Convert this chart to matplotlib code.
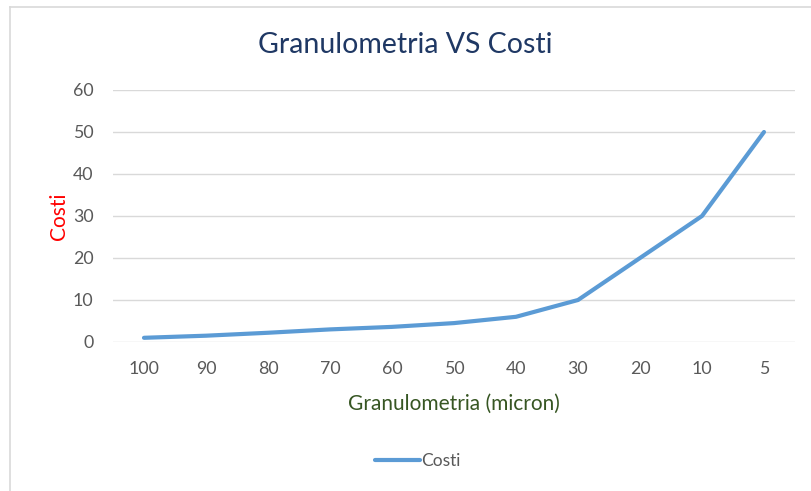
import matplotlib
matplotlib.use("Agg")
import matplotlib.pyplot as plt
from matplotlib.lines import Line2D

# data
granulometria = ["100", "90", "80", "70", "60", "50", "40", "30", "20", "10", "5"]
costi = [1, 1.5, 2.2, 3, 3.6, 4.5, 6, 10, 20, 30, 50]
y_ticks = [0, 10, 20, 30, 40, 50, 60]

_FONT = ["Lato", "DejaVu Sans"]
_BLUE = "#5B9BD5"
_GREY = "#595959"
_GRID = "#D9D9D9"

W, H = 811, 491
plt.rcParams["font.family"] = _FONT

fig = plt.figure(figsize=(W / 100, H / 100), dpi=100)
fig.patch.set_facecolor("white")

# plot area in pixels: x 113..795, y 90..342
ax = fig.add_axes([113 / W, 1 - 342 / H, (795 - 113) / W, (342 - 90) / H])
x = range(len(granulometria))
ax.plot(x, costi, color=_BLUE, linewidth=3, solid_capstyle="round", zorder=3)

ax.set_xlim(-0.5, len(granulometria) - 0.5)
ax.set_ylim(0, 60)
ax.set_yticks(y_ticks)
ax.set_xticks(list(x))
ax.set_xticklabels(granulometria)
ax.grid(axis="y", color=_GRID, linewidth=1)
ax.set_axisbelow(True)
for s in ax.spines.values():
    s.set_visible(False)
ax.tick_params(axis="both", length=0, colors=_GREY, labelsize=12.8)
ax.tick_params(axis="x", pad=14)
ax.tick_params(axis="y", pad=14)

ax.set_xlabel("Granulometria (micron)", color="#375623", fontsize=15, labelpad=12)
ax.set_ylabel("Costi", color="#FF0000", fontsize=15, labelpad=3)

fig.text(0.5, 1 - 45 / H, "Granulometria VS Costi", ha="center", va="center",
         fontsize=20.5, color="#1F3864")

handle = Line2D([], [], color=_BLUE, linewidth=3, solid_capstyle="round")
fig.legend([handle], ["Costi"], loc="center", bbox_to_anchor=(0.515, 1 - 461 / H),
           frameon=False, fontsize=12.5, labelcolor=_GREY, handlelength=2.6,
           handletextpad=0.1)

# chart border (top and left edges visible)
fig.add_artist(Line2D([10 / W, 10 / W], [0, 1 - 7 / H], color="#D9D9D9", linewidth=1.2,
                      transform=fig.transFigure))
fig.add_artist(Line2D([10 / W, 1], [1 - 7 / H, 1 - 7 / H], color="#D9D9D9", linewidth=1.2,
                      transform=fig.transFigure))

fig.savefig("out.png", dpi=100)
